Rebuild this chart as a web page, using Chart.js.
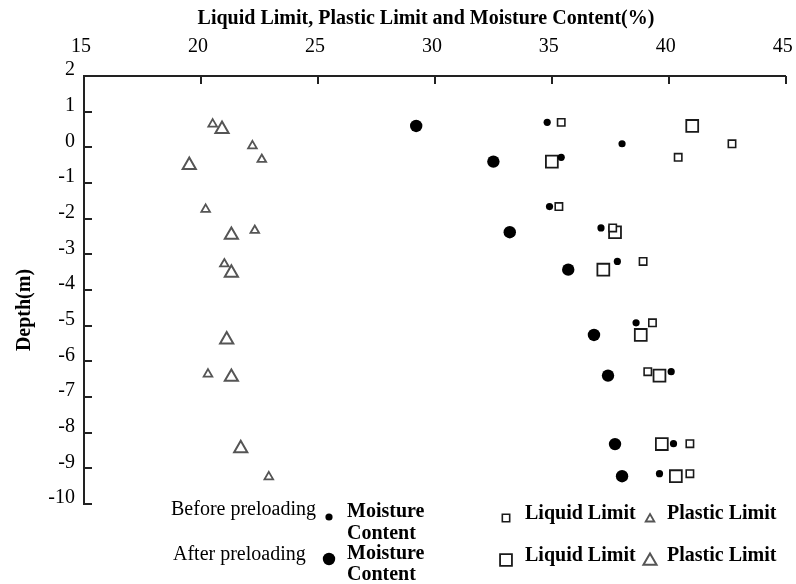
<!DOCTYPE html>
<html>
<head>
<meta charset="utf-8">
<title>Liquid Limit, Plastic Limit and Moisture Content vs Depth</title>
<script src="https://cdn.jsdelivr.net/npm/chart.js@4/dist/chart.umd.min.js"></script>
<style>
  html, body { margin: 0; padding: 0; background: #fff; }
  #wrap { width: 796px; height: 584px; position: relative; }
</style>
</head>
<body>
<div id="wrap"><canvas id="chart" width="796" height="584"></canvas></div>
<script>
// ---- Axis ticks ----
const xTickValues = [15, 20, 25, 30, 35, 40, 45];
const yTickValues = [2, 1, 0, -1, -2, -3, -4, -5, -6, -7, -8, -9, -10];

// ---- Before preloading (depth in m, values in %) ----
const beforeDepth       = [0.70, 0.10, -0.28, -1.66, -2.26, -3.20, -4.92, -6.29, -8.31, -9.15];
const beforeMoisture    = [34.8, 38.0, 35.4, 34.9, 37.1, 37.8, 38.6, 40.1, 40.2, 39.6];
const beforeLiquid      = [35.4, 42.7, 40.4, 35.3, 37.6, 38.9, 39.3, 39.1, 40.9, 40.9];
const beforePlasticDepth = [0.65, 0.04, -0.34, -1.74, -2.33, -3.27, -6.36, -9.24];
const beforePlastic     = [20.5, 22.2, 22.6, 20.2, 22.3, 21.0, 20.3, 22.9];

// ---- After preloading ----
const afterDepth        = [0.60, -0.40, -2.38, -3.43, -5.26, -6.40, -8.32, -9.22];
const afterMoisture     = [29.2, 32.5, 33.2, 35.7, 36.8, 37.4, 37.7, 38.0];
const afterLiquid       = [41.0, 35.0, 37.7, 37.2, 38.8, 39.6, 39.7, 40.3];
const afterPlasticDepth = [0.51, -0.50, -2.46, -3.52, -5.39, -6.44, -8.44];
const afterPlastic      = [20.9, 19.5, 21.3, 21.3, 21.1, 21.3, 21.7];

const SERIF = "'Liberation Serif', 'Times New Roman', 'DejaVu Serif', serif";
const INK = '#000';
const AXIS = '#222';

function pairs(xs, ys) {
  return xs.map((v, i) => ({ x: v, y: ys[i] }));
}

const datasets = [
  { label: 'Before Moisture Content', data: pairs(beforeMoisture, beforeDepth),
    pointStyle: 'circle', pointRadius: 3.6, backgroundColor: '#000', borderColor: '#000', borderWidth: 0 },
  { label: 'After Moisture Content', data: pairs(afterMoisture, afterDepth),
    pointStyle: 'circle', pointRadius: 6.2, backgroundColor: '#000', borderColor: '#000', borderWidth: 0 },
  { label: 'Before Liquid Limit', data: pairs(beforeLiquid, beforeDepth),
    pointStyle: 'rect', pointRadius: 5.2, backgroundColor: '#fff', borderColor: '#1a1a1a', borderWidth: 1.6 },
  { label: 'After Liquid Limit', data: pairs(afterLiquid, afterDepth),
    pointStyle: 'rect', pointRadius: 8.4, backgroundColor: '#fff', borderColor: '#1a1a1a', borderWidth: 1.8 },
  { label: 'Before Plastic Limit', data: pairs(beforePlastic, beforePlasticDepth),
    pointStyle: 'triangle', pointRadius: 5, backgroundColor: '#fff', borderColor: '#555', borderWidth: 1.8 },
  { label: 'After Plastic Limit', data: pairs(afterPlastic, afterPlasticDepth),
    pointStyle: 'triangle', pointRadius: 7.6, backgroundColor: '#fff', borderColor: '#555', borderWidth: 2 }
];
datasets.forEach(d => { d.showLine = false; d.pointHoverRadius = d.pointRadius; });

// Inward-pointing tick marks on the top and left axes
const innerTicks = {
  id: 'innerTicks',
  afterDatasetsDraw(chart) {
    const { ctx, chartArea, scales } = chart;
    ctx.save();
    ctx.strokeStyle = AXIS;
    ctx.lineWidth = 2;
    ctx.beginPath();
    scales.x.ticks.forEach((t, i) => {
      const px = Math.round(scales.x.getPixelForTick(i));
      ctx.moveTo(px, chartArea.top);
      ctx.lineTo(px, chartArea.top + 8);
    });
    scales.y.ticks.forEach((t, i) => {
      const py = Math.round(scales.y.getPixelForTick(i));
      ctx.moveTo(chartArea.left, py);
      ctx.lineTo(chartArea.left + 8, py);
    });
    ctx.stroke();
    ctx.restore();
  }
};

// Axis captions
const captions = {
  id: 'captions',
  afterDraw(chart) {
    const { ctx, chartArea } = chart;
    ctx.save();
    ctx.fillStyle = INK;
    ctx.font = 'bold 20px ' + SERIF;
    ctx.textAlign = 'center';
    ctx.textBaseline = 'alphabetic';
    ctx.fillText('Liquid Limit, Plastic Limit and Moisture Content(%)', chartArea.left + 342, 24);
    ctx.translate(30, chartArea.top + 234);
    ctx.rotate(-Math.PI / 2);
    ctx.fillText('Depth(m)', 0, 0);
    ctx.restore();
  }
};

// Two-row legend under the plot: before / after preloading
const preloadLegend = {
  id: 'preloadLegend',
  afterDraw(chart) {
    const { ctx } = chart;
    const ds = chart.data.datasets;
    const rows = [
      { caption: 'Before preloading', cx: 171, base: 515, sets: [0, 2, 4] },
      { caption: 'After preloading',  cx: 173, base: 557, sets: [1, 3, 5] }
    ];
    const marker = (d, x, y) => {
      ctx.save();
      ctx.fillStyle = d.backgroundColor;
      ctx.strokeStyle = d.borderColor;
      ctx.lineWidth = d.borderWidth;
      Chart.helpers.drawPoint(ctx, { pointStyle: d.pointStyle, radius: d.pointRadius, rotation: 0, borderWidth: d.borderWidth }, x, y);
      ctx.restore();
    };
    ctx.save();
    ctx.fillStyle = INK;
    ctx.textAlign = 'left';
    ctx.textBaseline = 'alphabetic';
    rows.forEach((r, k) => {
      ctx.font = '20px ' + SERIF;
      ctx.fillText(r.caption, r.cx, r.base + (k === 0 ? 0 : 3));
      const yMark = r.base + 2;
      marker(ds[r.sets[0]], 329, yMark);
      marker(ds[r.sets[1]], 506, yMark + 1);
      marker(ds[r.sets[2]], 650, yMark + 2);
      ctx.fillStyle = INK;
      ctx.font = 'bold 20px ' + SERIF;
      ctx.fillText('Moisture', 347, r.base + 2);
      ctx.fillText('Content', 347, r.base + (k === 0 ? 24 : 23));
      ctx.fillText('Liquid Limit', 525, r.base + 4);
      ctx.fillText('Plastic Limit', 667, r.base + 4);
    });
    ctx.restore();
  }
};

const tickFont = { family: SERIF, size: 20 };

new Chart(document.getElementById('chart'), {
  type: 'scatter',
  data: { datasets },
  options: {
    responsive: false,
    animation: false,
    layout: { padding: { left: 0, top: 0, right: 7, bottom: 80 } },
    plugins: { legend: { display: false }, tooltip: { enabled: false } },
    scales: {
      x: {
        type: 'linear',
        position: 'top',
        min: 15, max: 45,
        afterBuildTicks(s) { s.ticks = xTickValues.map(v => ({ value: v })); },
        ticks: { font: tickFont, color: INK, padding: 17, labelOffset: -3, maxRotation: 0 },
        grid: { display: false, drawTicks: false },
        border: { display: true, color: AXIS, width: 2 },
        afterFit(s) { s.height = 76; s.paddingLeft = 0; s.paddingRight = 0; }
      },
      y: {
        type: 'linear',
        position: 'left',
        min: -10, max: 2,
        afterBuildTicks(s) { s.ticks = yTickValues.map(v => ({ value: v })); },
        ticks: { font: tickFont, color: INK, padding: 9, labelOffset: -6 },
        grid: { display: false, drawTicks: false },
        border: { display: true, color: AXIS, width: 2 },
        afterFit(s) { s.width = 84; s.paddingTop = 0; s.paddingBottom = 0; }
      }
    }
  },
  plugins: [innerTicks, captions, preloadLegend]
});
</script>
</body>
</html>
